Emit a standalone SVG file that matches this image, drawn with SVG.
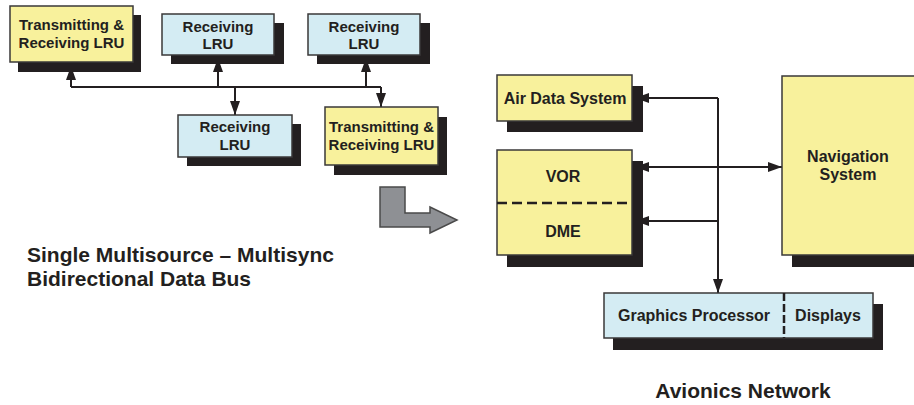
<svg xmlns="http://www.w3.org/2000/svg" width="914" height="405" viewBox="0 0 914 405">
  <style>
    .shadow { fill: #231f20; }
    .box { stroke: #3a3838; stroke-width: 1.5; }
    .yellow { fill: #f8f19c; }
    .blue { fill: #d4ecf3; }
    .lbl { font-family: "Liberation Sans", Arial, sans-serif; font-weight: bold; fill: #231f20; text-anchor: middle; }
    .s15 { font-size: 15px; }
    .s16 { font-size: 16px; }
    .title { font-family: "Liberation Sans", Arial, sans-serif; font-weight: bold; font-size: 21px; fill: #231f20; }
    .wire { fill: none; stroke: #231f20; stroke-width: 2; }
    .dash { fill: none; stroke: #231f20; stroke-width: 2.5; }
  </style>
  <defs>
    <marker id="head" markerUnits="userSpaceOnUse" markerWidth="14" markerHeight="10" refX="14" refY="5" orient="auto-start-reverse">
      <path d="M0,0 L14,5 L0,10 z" fill="#231f20"/>
    </marker>
  </defs>

  <rect width="914" height="405" fill="#ffffff"/>

  <!-- connectors: drawn first so the box shadows cover the arrow tips -->
  <g id="connectors">
    <!-- multisource bus -->
    <path class="wire" d="M71,87 H381"/>
    <path class="wire" d="M71,87 V66" marker-end="url(#head)"/>
    <path class="wire" d="M218,87 V58" marker-end="url(#head)"/>
    <path class="wire" d="M366,87 V58" marker-end="url(#head)"/>
    <path class="wire" d="M235,87 V115" marker-end="url(#head)"/>
    <path class="wire" d="M381,87 V107" marker-end="url(#head)"/>
    <!-- avionics network -->
    <path class="wire" d="M718,98 V293" marker-end="url(#head)"/>
    <path class="wire" d="M718,98 H635" marker-end="url(#head)"/>
    <path class="wire" d="M635,167 H782" marker-start="url(#head)" marker-end="url(#head)"/>
    <path class="wire" d="M718,221 H635" marker-end="url(#head)"/>
  </g>

  <!-- data bus LRUs -->
  <g id="lru-tr-1">
    <rect class="shadow" x="18" y="15" width="123" height="57"/>
    <rect class="box yellow" x="10" y="6" width="123" height="56"/>
    <text class="lbl s15" x="71.5" y="30">Transmitting &amp;</text>
    <text class="lbl s15" x="71.5" y="48">Receiving LRU</text>
  </g>
  <g id="lru-rx-1">
    <rect class="shadow" x="171" y="23" width="113" height="41"/>
    <rect class="box blue" x="162" y="14" width="112" height="41"/>
    <text class="lbl s15" x="218" y="32">Receiving</text>
    <text class="lbl s15" x="218" y="49">LRU</text>
  </g>
  <g id="lru-rx-2">
    <rect class="shadow" x="317" y="23" width="113" height="41"/>
    <rect class="box blue" x="308" y="14" width="112" height="41"/>
    <text class="lbl s15" x="364" y="32">Receiving</text>
    <text class="lbl s15" x="364" y="49">LRU</text>
  </g>
  <g id="lru-rx-3">
    <rect class="shadow" x="187" y="124" width="114" height="42"/>
    <rect class="box blue" x="178" y="115" width="114" height="42"/>
    <text class="lbl s15" x="235" y="132">Receiving</text>
    <text class="lbl s15" x="235" y="150">LRU</text>
  </g>
  <g id="lru-tr-2">
    <rect class="shadow" x="334" y="117" width="113" height="58"/>
    <rect class="box yellow" x="325" y="107" width="113" height="58"/>
    <text class="lbl s15" x="381.5" y="132">Transmitting &amp;</text>
    <text class="lbl s15" x="381.5" y="150">Receiving LRU</text>
  </g>

  <!-- transition arrow -->
  <g id="transition-arrow">
    <polygon points="380,187 405,187 405,213 430,213 430,207 457,220 430,233 430,227 380,227" fill="#8e9094" stroke="#4a4a4a" stroke-width="1.5" stroke-linejoin="miter"/>
  </g>

  <g id="bus-caption">
    <text class="title" x="27" y="262">Single Multisource – Multisync</text>
    <text class="title" x="27" y="286">Bidirectional Data Bus</text>
  </g>

  <!-- avionics network units -->
  <g id="air-data">
    <rect class="shadow" x="507" y="86" width="136" height="46"/>
    <rect class="box yellow" x="497" y="75" width="135" height="46"/>
    <text class="lbl s16" x="565" y="104">Air Data System</text>
  </g>
  <g id="vor-dme">
    <rect class="shadow" x="507" y="161" width="136" height="106"/>
    <rect class="box yellow" x="497" y="150" width="135" height="105"/>
    <path class="dash" d="M497,203 H630" stroke-dasharray="10,5"/>
    <text class="lbl s16" x="563" y="182">VOR</text>
    <text class="lbl s16" x="563" y="237">DME</text>
  </g>
  <g id="navigation">
    <rect class="shadow" x="792" y="87" width="130" height="180"/>
    <rect class="box yellow" x="782" y="76" width="140" height="179"/>
    <text class="lbl s16" x="848" y="162">Navigation</text>
    <text class="lbl s16" x="848" y="180">System</text>
  </g>
  <g id="graphics-displays">
    <rect class="shadow" x="613" y="304" width="270" height="46"/>
    <rect class="box blue" x="604" y="293" width="269" height="45"/>
    <path class="dash" d="M784,293 V338" stroke-dasharray="8,3"/>
    <text class="lbl s16" x="694" y="321">Graphics Processor</text>
    <text class="lbl s16" x="828" y="321">Displays</text>
  </g>

  <g id="network-caption">
    <text class="title" x="743" y="398" text-anchor="middle">Avionics Network</text>
  </g>
</svg>
